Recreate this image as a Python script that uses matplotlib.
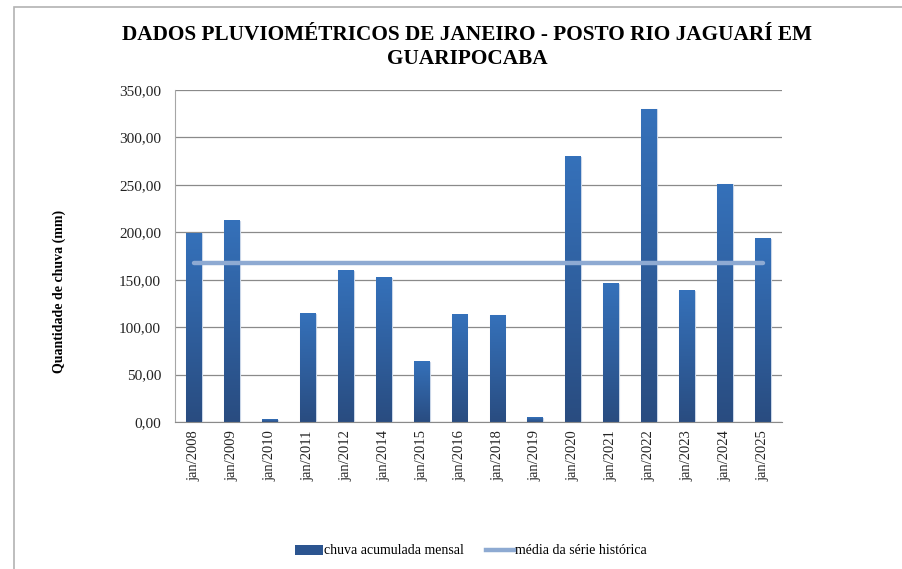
import numpy as np
import matplotlib
matplotlib.use("Agg")
import matplotlib.pyplot as plt
from matplotlib.patches import Rectangle, Patch
from matplotlib.lines import Line2D
from matplotlib.colors import LinearSegmentedColormap
from matplotlib.ticker import FuncFormatter

# data
meses = ["jan/2008", "jan/2009", "jan/2010", "jan/2011", "jan/2012", "jan/2014",
         "jan/2015", "jan/2016", "jan/2018", "jan/2019", "jan/2020", "jan/2021",
         "jan/2022", "jan/2023", "jan/2024", "jan/2025"]
chuva = [199.0, 212.0, 2.2, 114.0, 159.5, 152.0, 63.5, 113.0, 112.3, 4.6,
         279.4, 145.7, 329.6, 138.3, 250.6, 193.0]
media = [168.0] * len(meses)

plt.rcParams['font.family'] = ['Liberation Serif', 'DejaVu Serif']

fig = plt.figure(figsize=(9.02, 5.69), dpi=100)
# outer chart frame (like the spreadsheet chart border)
fig.patches.append(Rectangle((14 / 902, -0.1), 1.2, 1 - 7 / 569 + 0.1,
                             transform=fig.transFigure, fill=False,
                             edgecolor='#b3b3b3', linewidth=1.2))

ax = fig.add_axes([175 / 902, 1 - 422 / 569, 607 / 902, 332 / 569])
x = np.arange(len(meses))

bars = ax.bar(x, chuva, width=0.42, color='none', edgecolor='#c9d6e8',
              linewidth=0.8, zorder=2)

cmap = LinearSegmentedColormap.from_list('azul', ['#294c80', '#2f5f9e', '#3571ba'])
grad = np.linspace(0, 1, 256).reshape(-1, 1)
for b in bars:
    x0, w, h = b.get_x(), b.get_width(), b.get_height()
    ax.imshow(grad, cmap=cmap, extent=(x0, x0 + w, 0, h), origin='lower',
              aspect='auto', zorder=2.5)

ax.plot(x, media, color='#8eaad2', linewidth=3.2, solid_capstyle='round', zorder=3)

ax.set_xlim(-0.5, len(meses) - 0.5)
ax.set_ylim(0, 350)
ax.set_yticks(np.arange(0, 351, 50))
ax.yaxis.set_major_formatter(FuncFormatter(lambda v, p: f"{v:.2f}".replace('.', ',')))
ax.set_xticks(x)
ax.set_xticklabels(meses, rotation=90)
ax.tick_params(axis='y', length=0, labelsize=11, colors='#222222', pad=10)
ax.tick_params(axis='x', length=0, labelsize=10.5, colors='#222222', pad=6)

ax.grid(axis='y', color='#8a8a8a', linewidth=0.9, zorder=0)
ax.set_axisbelow(True)
for s in ['top', 'right']:
    ax.spines[s].set_visible(False)
ax.spines['left'].set_color('#a6a6a6')
ax.spines['bottom'].set_color('#8a8a8a')

fig.text(59 / 902, 1 - 291 / 569, 'Quantidade de chuva (mm)', rotation=90,
         ha='center', va='center', fontsize=10, fontweight='bold')

fig.text(0.518, 1 - 47 / 569, 'DADOS PLUVIOMÉTRICOS DE JANEIRO - POSTO RIO JAGUARÍ EM\nGUARIPOCABA',
         ha='center', va='center', fontsize=15.3, fontweight='bold', linespacing=1.3)

handles = [Patch(facecolor='#2c5590', edgecolor='none'),
           Line2D([0], [0], color='#8eaad2', linewidth=3.2)]
fig.legend(handles, ['chuva acumulada mensal', 'média da série histórica'],
           loc='center', bbox_to_anchor=(0.522, 1 - 551 / 569), ncol=2, frameon=False,
           fontsize=10, handlelength=2.0, handletextpad=0.1, columnspacing=1.6)

fig.savefig('out.png', dpi=100)
